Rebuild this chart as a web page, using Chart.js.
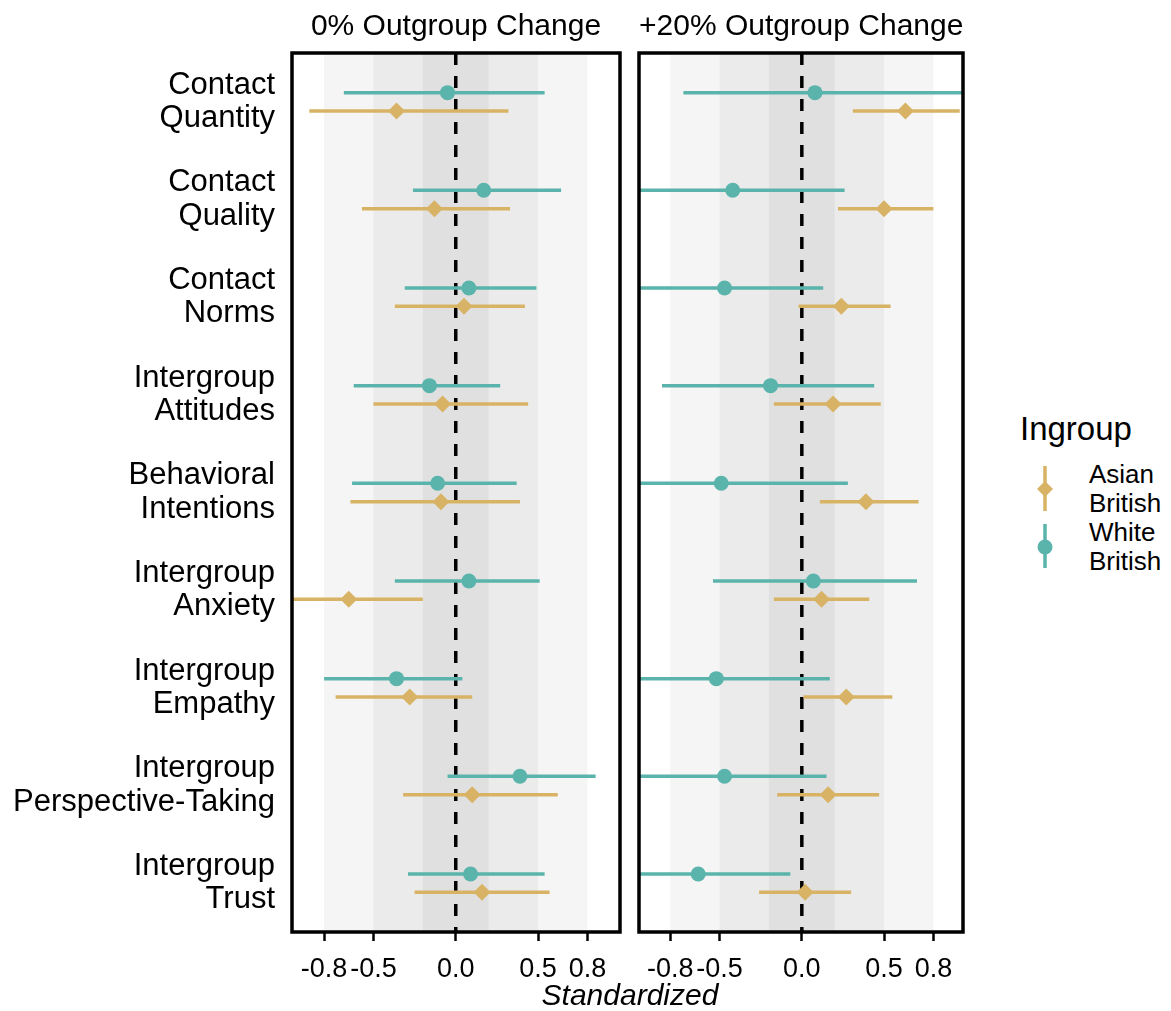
<!DOCTYPE html>
<html>
<head>
<meta charset="utf-8">
<script src="https://cdn.jsdelivr.net/npm/chart.js@4.4.1/dist/chart.umd.min.js"></script>
<style>
  body { margin: 0; background: #fff; font-family: "Liberation Sans", Arial, sans-serif; color: #000; }
  #wrap { position: relative; width: 1171px; height: 1011px; overflow: hidden; }
  canvas { position: absolute; top: 0; }
  .txt { position: absolute; white-space: nowrap; }
  .title { font-size: 30px; line-height: 30px; text-align: center; top: 10px; }
</style>
</head>
<body>
<div id="wrap">
  <canvas id="left" width="630" height="1011" style="left:0"></canvas>
  <canvas id="right" width="345" height="1011" style="left:630px"></canvas>

  <div class="txt title" style="left:292px;width:328px">0% Outgroup Change</div>
  <div class="txt title" style="left:639px;width:324px">+20% Outgroup Change</div>
  <div class="txt" style="left:430px;width:400px;text-align:center;top:980px;font-size:30px;line-height:30px;font-style:italic">Standardized</div>

  <div class="txt" style="left:1020px;top:412px;font-size:33px;line-height:33px">Ingroup</div>
  <svg class="txt" style="left:1030px;top:460px" width="30" height="115">
    <line x1="15" y1="6" x2="15" y2="51" stroke="#D8B365" stroke-width="3.5"/>
    <polygon points="15,21 23,29 15,37 7,29" fill="#D8B365"/>
    <line x1="15" y1="64" x2="15" y2="108" stroke="#5AB4AC" stroke-width="3.5"/>
    <circle cx="15" cy="87" r="7.5" fill="#5AB4AC"/>
  </svg>
  <div class="txt" style="left:1089px;top:460px;font-size:26px;line-height:29px">Asian<br>British</div>
  <div class="txt" style="left:1089px;top:518px;font-size:26px;line-height:29px">White<br>British</div>
</div>

<script>
// outcome rows, top to bottom
const rowLabels = [
  ["Contact", "Quantity"],
  ["Contact", "Quality"],
  ["Contact", "Norms"],
  ["Intergroup", "Attitudes"],
  ["Behavioral", "Intentions"],
  ["Intergroup", "Anxiety"],
  ["Intergroup", "Empathy"],
  ["Intergroup", "Perspective-Taking"],
  ["Intergroup", "Trust"]
];

const xTicks = [-0.8, -0.5, 0.0, 0.5, 0.8];
const bandEdges = [0.8, 0.5, 0.2];

// 0% outgroup change
const white0 = [-0.05, 0.17, 0.08, -0.16, -0.11, 0.08, -0.36, 0.39, 0.09];
const white0Lo = [-0.68, -0.26, -0.31, -0.62, -0.63, -0.37, -0.80, -0.05, -0.29];
const white0Hi = [0.54, 0.64, 0.49, 0.27, 0.37, 0.51, 0.04, 0.85, 0.54];
const asian0 = [-0.36, -0.13, 0.05, -0.08, -0.09, -0.65, -0.28, 0.10, 0.16];
const asian0Lo = [-0.89, -0.57, -0.37, -0.50, -0.64, -1.10, -0.73, -0.32, -0.25];
const asian0Hi = [0.32, 0.33, 0.42, 0.44, 0.39, -0.20, 0.10, 0.62, 0.57];

// +20% outgroup change
const white20 = [0.08, -0.42, -0.47, -0.19, -0.49, 0.07, -0.52, -0.47, -0.63];
const white20Lo = [-0.72, -1.10, -1.06, -0.85, -1.25, -0.54, -1.20, -1.10, -1.19];
const white20Hi = [1.05, 0.26, 0.13, 0.44, 0.28, 0.70, 0.17, 0.15, -0.07];
const asian20 = [0.63, 0.50, 0.24, 0.19, 0.39, 0.12, 0.27, 0.16, 0.02];
const asian20Lo = [0.31, 0.22, -0.02, -0.17, 0.11, -0.17, 0.01, -0.15, -0.26];
const asian20Hi = [0.96, 0.80, 0.54, 0.48, 0.71, 0.41, 0.55, 0.47, 0.30];

const TEAL = "#5AB4AC";
const GOLD = "#D8B365";
const bandColors = ["#F5F5F5", "#EBEBEB", "#E0E0E0"];
const FONT = "'Liberation Sans', Arial, sans-serif";

function toPoints(est, lo, hi, shift) {
  return est.map((v, i) => ({ x: v, y: i + 1 + shift, lo: lo[i], hi: hi[i] }));
}

const panelDecor = {
  id: "panelDecor",
  beforeDatasetsDraw(chart) {
    const { ctx, chartArea: a, scales: { x, y } } = chart;
    ctx.save();
    ctx.beginPath();
    ctx.rect(a.left, a.top, a.width, a.height);
    ctx.clip();

    bandEdges.forEach((e, k) => {
      const x0 = x.getPixelForValue(-e);
      const x1 = x.getPixelForValue(e);
      ctx.fillStyle = bandColors[k];
      ctx.fillRect(x0, a.top, x1 - x0, a.height);
    });

    ctx.strokeStyle = "#000";
    ctx.lineWidth = 3.5;
    ctx.setLineDash([12, 11]);
    ctx.beginPath();
    ctx.moveTo(x.getPixelForValue(0), a.top);
    ctx.lineTo(x.getPixelForValue(0), a.bottom);
    ctx.stroke();
    ctx.setLineDash([]);

    // error bars
    chart.data.datasets.forEach(ds => {
      ctx.strokeStyle = ds.backgroundColor;
      ctx.lineWidth = 3.5;
      ds.data.forEach(p => {
        const py = y.getPixelForValue(p.y);
        ctx.beginPath();
        ctx.moveTo(x.getPixelForValue(p.lo), py);
        ctx.lineTo(x.getPixelForValue(p.hi), py);
        ctx.stroke();
      });
    });
    ctx.restore();
  },
  afterDraw(chart) {
    const { ctx, chartArea: a } = chart;
    ctx.save();
    ctx.strokeStyle = "#000";
    ctx.lineWidth = 3.5;
    ctx.strokeRect(a.left, a.top, a.width, a.height);
    ctx.restore();
  }
};

function makePanel(id, xMin, xMax, white, asian, showY, padding) {
  return new Chart(document.getElementById(id), {
    type: "scatter",
    data: {
      datasets: [
        {
          label: "White British",
          data: white,
          backgroundColor: TEAL,
          borderColor: TEAL,
          borderWidth: 0,
          pointStyle: "circle",
          pointRadius: 7.5
        },
        {
          label: "Asian British",
          data: asian,
          backgroundColor: GOLD,
          borderColor: GOLD,
          borderWidth: 0,
          pointStyle: "rectRot",
          pointRadius: 8.5
        }
      ]
    },
    options: {
      responsive: false,
      animation: false,
      layout: { padding: padding },
      plugins: { legend: { display: false }, tooltip: { enabled: false } },
      scales: {
        x: {
          type: "linear",
          min: xMin,
          max: xMax,
          afterBuildTicks: s => { s.ticks = xTicks.map(v => ({ value: v })); },
          afterFit: s => { s.height = 79; },
          ticks: {
            autoSkip: false,
            maxRotation: 0,
            padding: 12,
            color: "#000",
            font: { family: FONT, size: 27 },
            callback: v => v.toFixed(1)
          },
          grid: {
            drawOnChartArea: false,
            tickLength: 9,
            tickWidth: 2.5,
            tickColor: "#000"
          },
          border: { display: false }
        },
        y: {
          type: "linear",
          display: showY,
          reverse: true,
          min: 0.5,
          max: 9.5,
          afterBuildTicks: s => { s.ticks = rowLabels.map((_, i) => ({ value: i + 1 })); },
          afterFit: s => { s.width = showY ? 292 : 0; },
          ticks: {
            autoSkip: false,
            padding: 17,
            color: "#000",
            font: { family: FONT, size: 31, lineHeight: 1.08 },
            callback: v => rowLabels[v - 1]
          },
          grid: { display: false, drawTicks: false },
          border: { display: false }
        }
      }
    },
    plugins: [panelDecor]
  });
}

makePanel("left", -0.995, 0.998,
  toPoints(white0, white0Lo, white0Hi, -0.094),
  toPoints(asian0, asian0Lo, asian0Hi, 0.094),
  true, { top: 53, right: 10, left: 0, bottom: 0 });

makePanel("right", -0.99, 0.98,
  toPoints(white20, white20Lo, white20Hi, -0.094),
  toPoints(asian20, asian20Lo, asian20Hi, 0.094),
  false, { top: 53, right: 12, left: 9, bottom: 0 });
</script>
</body>
</html>
